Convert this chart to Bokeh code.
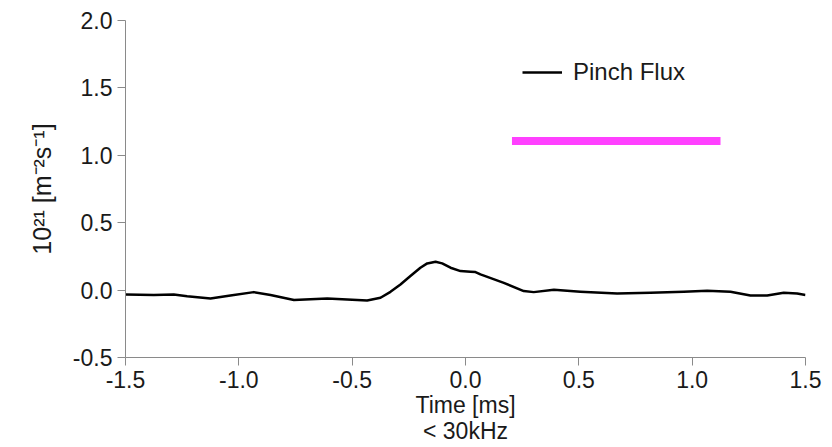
from bokeh.plotting import figure
from bokeh.models import Range1d, FixedTicker, Legend, LegendItem
from bokeh.embed import file_html
from bokeh.resources import INLINE

# ---- data ----
time_ms = [-1.5, -1.375, -1.287, -1.228, -1.125, -1.037, -0.934, -0.860, -0.757,
           -0.61, -0.522, -0.434, -0.375, -0.331, -0.287, -0.243, -0.199, -0.169,
           -0.132, -0.103, -0.066, -0.022, 0.022, 0.044, 0.066, 0.169, 0.257, 0.301,
           0.39, 0.463, 0.507, 0.669, 0.816, 0.963, 1.066, 1.169, 1.257, 1.331,
           1.404, 1.463, 1.5]
pinch_flux = [-0.032, -0.037, -0.032, -0.045, -0.062, -0.04, -0.015, -0.037, -0.074,
              -0.062, -0.069, -0.077, -0.057, -0.013, 0.042, 0.104, 0.166, 0.198,
              0.21, 0.198, 0.166, 0.141, 0.136, 0.134, 0.117, 0.054, -0.007, -0.015,
              0.002, -0.007, -0.012, -0.025, -0.02, -0.012, -0.005, -0.012, -0.04, -0.04,
              -0.02, -0.025, -0.037]

bar_x = [0.205, 1.125]
bar_y = [1.107, 1.107]

x_ticks = [-1.5, -1.0, -0.5, 0.0, 0.5, 1.0, 1.5]
y_ticks = [-0.5, 0.0, 0.5, 1.0, 1.5, 2.0]
x_tick_labels = {-1.5: "-1.5", -1.0: "-1.0", -0.5: "-0.5", 0.0: "0.0", 0.5: "0.5", 1.0: "1.0", 1.5: "1.5"}
y_tick_labels = {-0.5: "-0.5", 0.0: "0.0", 0.5: "0.5", 1.0: "1.0", 1.5: "1.5", 2.0: "2.0"}

FONT = "Liberation Sans"
AXIS_COLOR = "#8a8a8a"
TEXT_COLOR = "#1a1a1a"

p = figure(width=832, height=447, output_backend="svg", toolbar_location=None,
           x_range=Range1d(-1.5, 1.5), y_range=Range1d(-0.5, 2.0),
           min_border_left=125, min_border_right=27, min_border_top=20, min_border_bottom=90)
p.outline_line_color = None
p.grid.visible = False
p.background_fill_color = "white"
p.border_fill_color = "white"

line_r = p.line(time_ms, pinch_flux, line_color="black", line_width=2.5, line_join="round")
p.line(bar_x, bar_y, line_color="#ff40ff", line_width=8)

for ax in (p.xaxis[0], p.yaxis[0]):
    ax.axis_line_color = AXIS_COLOR
    ax.major_tick_line_color = AXIS_COLOR
    ax.minor_tick_line_color = None
    ax.major_tick_out = 8
    ax.major_tick_in = 0
    ax.major_label_text_font = FONT
    ax.major_label_text_font_size = "23px"
    ax.major_label_text_color = TEXT_COLOR
    ax.axis_label_text_font = FONT
    ax.axis_label_text_font_style = "normal"
    ax.axis_label_text_color = TEXT_COLOR

p.xaxis[0].ticker = FixedTicker(ticks=x_ticks)
p.yaxis[0].ticker = FixedTicker(ticks=y_ticks)
p.xaxis[0].major_label_overrides = x_tick_labels
p.yaxis[0].major_label_overrides = y_tick_labels
p.xaxis[0].major_label_standoff = 5
p.yaxis[0].major_label_standoff = 5
p.xaxis[0].axis_label = "Time [ms]\n< 30kHz"
p.xaxis[0].axis_label_text_font_size = "23px"
p.xaxis[0].axis_label_standoff = 1
p.xaxis[0].axis_label_text_line_height = 1.0
p.yaxis[0].axis_label = "10²¹ [m⁻²s⁻¹]"
p.yaxis[0].axis_label_text_font_size = "25px"
p.yaxis[0].axis_label_standoff = 14

legend = Legend(items=[LegendItem(label="Pinch Flux", renderers=[line_r])],
                location=(397, 271), glyph_width=40, label_standoff=11,
                padding=0, spacing=0, margin=0,
                border_line_color=None, background_fill_alpha=0,
                label_text_font=FONT, label_text_font_size="24px",
                label_text_color=TEXT_COLOR)
p.add_layout(legend)

open("out.html", "w").write(file_html(p, INLINE))
